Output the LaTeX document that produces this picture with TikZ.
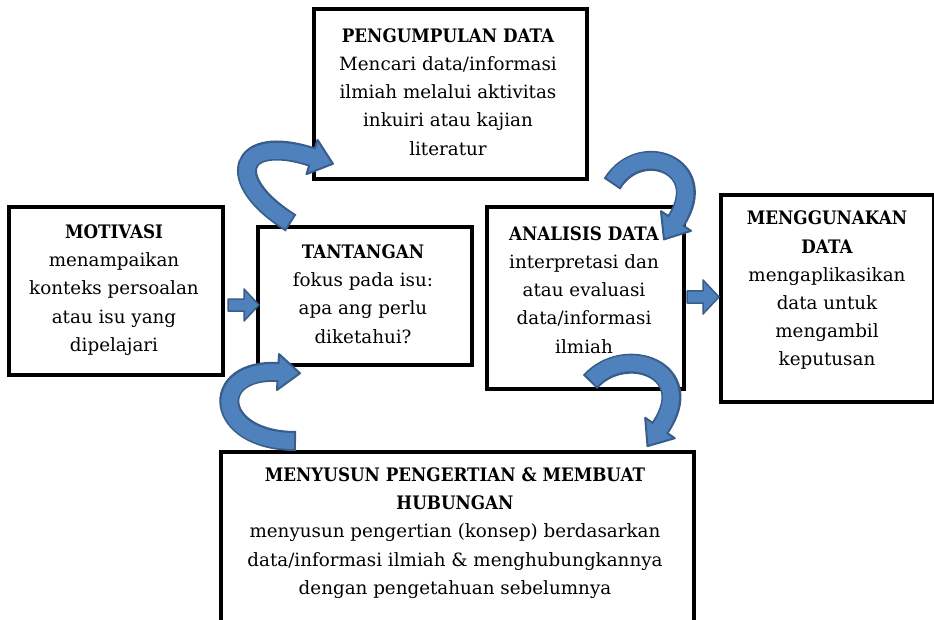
\documentclass[tikz,border=0pt]{standalone}
\usepackage{fontspec}
\usepackage{graphicx}
\setmainfont{DejaVu Serif}
\usetikzlibrary{calc}
\definecolor{arrowfill}{HTML}{4F81BD}
\definecolor{arrowborder}{HTML}{385D8A}
\newcommand{\ttl}[1]{\scalebox{0.9}[1]{\fontsize{18.6}{28.2}\selectfont\bfseries #1}}
\tikzset{
  box/.style={draw=black, line width=3.6pt, rectangle, fill=white, inner sep=0pt, anchor=north west},
  txt/.style={align=center, inner sep=0pt, font=\fontsize{18.3}{28.2}\selectfont},
  blockarrow/.style={fill=arrowfill, draw=arrowborder, line width=1.5pt, line join=round},
}
\newcommand{\ribbonarrow}[4]{%
  \draw[line width=20pt, draw=arrowborder] (#1) .. controls (#2) and (#3) .. (#4);
  \filldraw[fill=arrowfill, draw=arrowborder, line width=2pt, line join=round]
    ($(#4)!-22pt!(#3)$) -- ($(#4)!18pt!90:(#3)$) -- ($(#4)!18pt!-90:(#3)$) -- cycle;
  \draw[line width=16pt, draw=arrowfill, shorten <=2pt, shorten >=-2pt] (#1) .. controls (#2) and (#3) .. (#4);
}
\begin{document}
\begin{tikzpicture}[x=1pt, y=-1pt]
\useasboundingbox (0,0) rectangle (934,620);
\fill[white] (0,0) rectangle (934,620);

% boxes
\node[box, minimum width=273pt, minimum height=170pt] (peng) at (312,7) {};
\node[box, minimum width=214pt, minimum height=168pt] (mot) at (7,205) {};
\node[box, minimum width=214pt, minimum height=138pt] (tan) at (256,225) {};
\node[box, minimum width=197pt, minimum height=182pt] (ana) at (485,205) {};
\node[box, minimum width=213pt, minimum height=207pt] (meng) at (719,193) {};
\node[box, minimum width=473pt, minimum height=200pt] (meny) at (219,450) {};

% texts
\node[txt] (tpeng) at (448,92) {\ttl{PENGUMPULAN DATA}\\Mencari data/informasi\\ilmiah melalui aktivitas\\inkuiri atau kajian\\literatur};
\node[txt] (tmot) at (114,290) {\ttl{MOTIVASI}\\menampaikan\\konteks persoalan\\atau isu yang\\dipelajari};
\node[txt] (ttan) at (363,294) {\ttl{TANTANGAN}\\fokus pada isu:\\apa ang perlu\\diketahui?};
\node[txt] (tana) at (584,290) {\ttl{ANALISIS DATA}\\interpretasi dan\\atau evaluasi\\data/informasi\\ilmiah};
\node[txt] (tmeng) at (827,290.5) {\ttl{MENGGUNAKAN}\\\ttl{DATA}\\mengaplikasikan\\data untuk\\mengambil\\keputusan};
\node[txt] (tmeny) at (455,533) {\ttl{MENYUSUN PENGERTIAN \& MEMBUAT}\\\ttl{HUBUNGAN}\\menyusun pengertian (konsep) berdasarkan\\data/informasi ilmiah \& menghubungkannya\\dengan pengetahuan sebelumnya};

% straight block arrows
\filldraw[blockarrow] (228,299) -- (244,299) -- (244,289) -- (259,305) -- (244,321) -- (244,311) -- (228,311) -- cycle;
\filldraw[blockarrow] (687,291) -- (703,291) -- (703,280) -- (719,297) -- (703,314) -- (703,303) -- (687,303) -- cycle;

% curved arrows
\coordinate (a1s) at (291,223);
\coordinate (a1c1) at (222,180);
\coordinate (a1c2) at (238,133);
\coordinate (a1e) at (312,157);
\ribbonarrow{a1s}{a1c1}{a1c2}{a1e}

\coordinate (a2s) at (612,184);
\coordinate (a2c1) at (640,138);
\coordinate (a2c2) at (712,166);
\coordinate (a2e) at (676,221);
\ribbonarrow{a2s}{a2c1}{a2c2}{a2e}

\coordinate (a3s) at (296,441);
\coordinate (a3c1) at (213,441);
\coordinate (a3c2) at (208,368);
\coordinate (a3e) at (278,372);
\ribbonarrow{a3s}{a3c1}{a3c2}{a3e}

\coordinate (a4s) at (590,382);
\coordinate (a4c1) at (625,343);
\coordinate (a4c2) at (700,370);
\coordinate (a4e) at (660,428);
\ribbonarrow{a4s}{a4c1}{a4c2}{a4e}
\end{tikzpicture}
\end{document}
